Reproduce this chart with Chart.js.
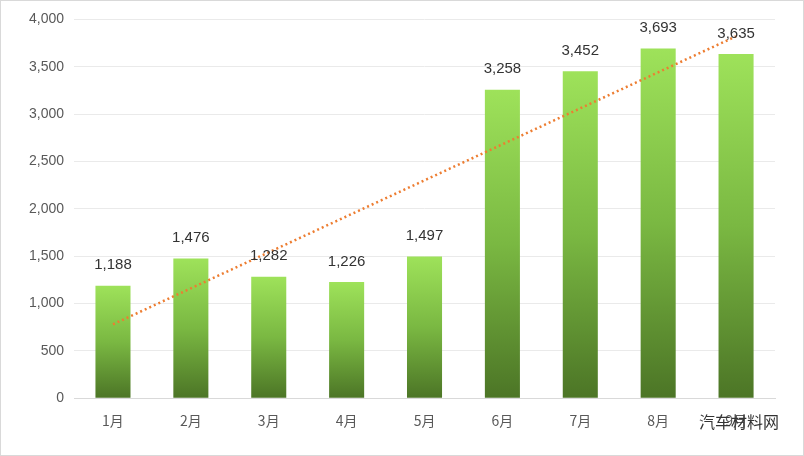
<!DOCTYPE html>
<html><head><meta charset="utf-8">
<script src="https://cdn.jsdelivr.net/npm/chart.js@4/dist/chart.umd.min.js"></script>
<style>body{margin:0;background:#fff}#w{width:802px;height:454px;border:1px solid #d9d9d9;position:relative}
#wm{position:absolute;right:24px;bottom:22px;font:16px "Noto Sans CJK SC";color:#333}</style>
</head><body><div id="w"><canvas id="c" width="802" height="454"></canvas><div id="wm">汽车材料网</div></div>
<script>
const categories=["1月","2月","3月","4月","5月","6月","7月","8月","9月"];
const values=[1188,1476,1282,1226,1497,3258,3452,3693,3635];
const yTicks={min:0,max:4000,step:500};
// linear trendline (least squares) from values
const n=values.length,mx=(n+1)/2,my=values.reduce((a,b)=>a+b)/n;
let sxy=0,sxx=0;values.forEach((v,i)=>{sxy+=(i+1-mx)*(v-my);sxx+=(i+1-mx)**2;});
const slope=sxy/sxx;const trend=values.map((v,i)=>my+slope*(i+1-mx));
const labelPlugin={id:'lbl',afterDatasetsDraw(ch){const ctx=ch.ctx;const m=ch.getDatasetMeta(0);
ctx.save();ctx.font='15px "Liberation Sans", Arial';ctx.fillStyle='#333';ctx.textAlign='center';ctx.textBaseline='bottom';
m.data.forEach((b,i)=>ctx.fillText(values[i].toLocaleString('en-US'),b.x,b.y-13));ctx.restore();}};
new Chart(document.getElementById('c'),{
data:{labels:categories,datasets:[
{type:'bar',data:values,order:2,barPercentage:0.45,categoryPercentage:1,
backgroundColor(c){const ch=c.chart,a=ch.chartArea;if(!a||c.parsed==null)return '#7fb845';
const top=ch.scales.y.getPixelForValue(c.parsed.y);const g=ch.ctx.createLinearGradient(0,top,0,a.bottom);
g.addColorStop(0,'#9ee25a');g.addColorStop(0.5,'#7ab842');g.addColorStop(1,'#4c7526');return g;}},
{type:'line',data:trend,order:1,borderColor:'#ed7d31',borderWidth:2.5,borderDash:[2,3],pointRadius:0,fill:false}
]},
options:{responsive:false,animation:false,layout:{padding:{left:18,right:28,top:12,bottom:20}},
plugins:{legend:{display:false},tooltip:{enabled:false}},
scales:{x:{grid:{display:false},border:{color:'#d9d9d9'},ticks:{color:'#595959',font:{size:14,family:'"Noto Sans CJK SC"'},padding:6}},
y:{min:yTicks.min,max:yTicks.max,ticks:{stepSize:yTicks.step,color:'#595959',font:{size:14,family:'"Liberation Sans"'},padding:10,
callback:v=>v.toLocaleString('en-US')},grid:{color:'#eaeaea',drawTicks:false},border:{display:false}}}},
plugins:[labelPlugin]});
</script></body></html>
